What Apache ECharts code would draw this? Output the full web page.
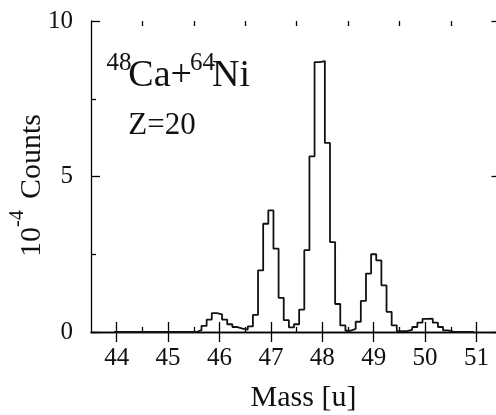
<!DOCTYPE html>
<html>
<head>
<meta charset="utf-8">
<script src="https://cdn.jsdelivr.net/npm/echarts@6/dist/echarts.min.js"></script>
<style>html,body{margin:0;padding:0;background:#fff;}#chart{width:496px;height:415px;}</style>
</head>
<body>
<div id="chart"></div>
<script>
// Bin centres (mass, u), bin width 0.1 u
const binCenters = [44.0,44.1,44.2,44.3,44.4,44.5,44.6,44.7,44.8,44.9,
  45.0,45.1,45.2,45.3,45.4,45.5,45.6,45.7,45.8,45.9,
  46.0,46.1,46.2,46.3,46.4,46.5,46.6,46.7,46.8,46.9,
  47.0,47.1,47.2,47.3,47.4,47.5,47.6,47.7,47.8,47.9,
  48.0,48.1,48.2,48.3,48.4,48.5,48.6,48.7,48.8,48.9,
  49.0,49.1,49.2,49.3,49.4,49.5,49.6,49.7,49.8,49.9,
  50.0,50.1,50.2,50.3,50.4,50.5,50.6,50.7,50.8,50.9];
// Counts (units of 10^-4)
const counts = [0,0,0,0,0,0,0,0,0,0,
  0,0,0,0,0,0,0.06,0.20,0.40,0.61,
  0.57,0.40,0.25,0.16,0.11,0.08,0.18,0.55,1.98,3.48,
  3.91,2.68,1.10,0.38,0.15,0.25,0.72,2.63,5.65,8.68,
  8.71,6.08,2.89,0.90,0.21,0.04,0.10,0.33,1.00,1.88,
  2.50,2.30,1.50,0.65,0.21,0.03,0.03,0.07,0.16,0.30,
  0.42,0.43,0.30,0.16,0.05,0.01,0,0,0,0];
const binWidth = 0.1;
const xMajor = [44,45,46,47,48,49,50,51];
const xMinor = [44.5,45.5,46.5,47.5,48.5,49.5,50.5];
const yMajor = [0,5,10];
const yMinor = [2.5,7.5];

const FONT = 'Liberation Serif';
const stepData = binCenters.map((c,i)=>[c - binWidth/2, counts[i]]);
stepData.push([binCenters[binCenters.length-1] + binWidth/2, counts[counts.length-1]]);

const lineStyle = {color:'#000', width:1.3};
function xAx(pos, ticks, len, showLine, labels){
  return {type:'value', min:43.5, max:51.38, position:pos, offset:0,
    splitLine:{show:false},
    axisLine:{show:showLine, lineStyle:lineStyle},
    axisTick:{show:true, inside:true, length:len, customValues:ticks, lineStyle:lineStyle},
    axisLabel: labels ? {show:true, customValues:ticks, fontFamily:FONT, fontSize:25, color:'#111', margin:14} : {show:false}
  };
}
function yAx(pos, ticks, len, showLine, labels){
  return {type:'value', min:0, max:10, position:pos, offset:0,
    splitLine:{show:false},
    axisLine:{show:showLine, lineStyle:lineStyle},
    axisTick:{show:len>0, inside:true, length:len, customValues:ticks, lineStyle:lineStyle},
    axisLabel: labels ? {show:true, customValues:ticks, fontFamily:FONT, fontSize:25, color:'#111', margin:18} : {show:false}
  };
}

const chart = echarts.init(document.getElementById('chart'), null, {renderer:'canvas'});
chart.setOption({
  animation:false,
  backgroundColor:'#fff',
  grid:{left:91, right:0, top:21, bottom:83, containLabel:false},
  xAxis:[
    xAx('bottom', xMajor, 10, true, true),
    xAx('bottom', xMinor, 5, false, false),
    xAx('top', xMajor, 10, true, false),
    xAx('top', xMinor, 5, false, false)
  ],
  yAxis:[
    yAx('left', yMajor, 9, true, true),
    yAx('left', yMinor, 5, false, false),
    yAx('right', yMajor, 4.5, false, false)
  ],
  series:[{
    type:'line', step:'end', xAxisIndex:0, yAxisIndex:0,
    data:stepData, symbol:'none', clip:true,
    lineStyle:{color:'#111', width:1.8}
  }],
  graphic:[
    {type:'text', x:303.5, y:398, style:{text:'Mass [u]', font:'30px "Liberation Serif"', fill:'#111', align:'center', verticalAlign:'middle'}},
    {type:'text', x:32.5, y:257, rotation:Math.PI/2, style:{text:'10', font:'30px "Liberation Serif"', fill:'#111', align:'left', verticalAlign:'middle'}},
    {type:'text', x:17.5, y:227, rotation:Math.PI/2, style:{text:'-4', font:'20px "Liberation Serif"', fill:'#111', align:'left', verticalAlign:'middle'}},
    {type:'text', x:32.5, y:199, rotation:Math.PI/2, style:{text:'Counts', font:'30px "Liberation Serif"', fill:'#111', align:'left', verticalAlign:'middle'}},
    {type:'text', x:106.5, y:63.3, style:{text:'48', font:'25px "Liberation Serif"', fill:'#111', align:'left', verticalAlign:'middle'}},
    {type:'text', x:128.3, y:75.7, style:{text:'Ca+', font:'38px "Liberation Serif"', fill:'#111', align:'left', verticalAlign:'middle'}},
    {type:'text', x:190, y:63.3, style:{text:'64', font:'25px "Liberation Serif"', fill:'#111', align:'left', verticalAlign:'middle'}},
    {type:'text', x:212, y:75.7, style:{text:'Ni', font:'38px "Liberation Serif"', fill:'#111', align:'left', verticalAlign:'middle'}},
    {type:'text', x:128.3, y:125.8, style:{text:'Z=20', font:'31px "Liberation Serif"', fill:'#111', align:'left', verticalAlign:'middle'}}
  ]
});
</script>
</body>
</html>
